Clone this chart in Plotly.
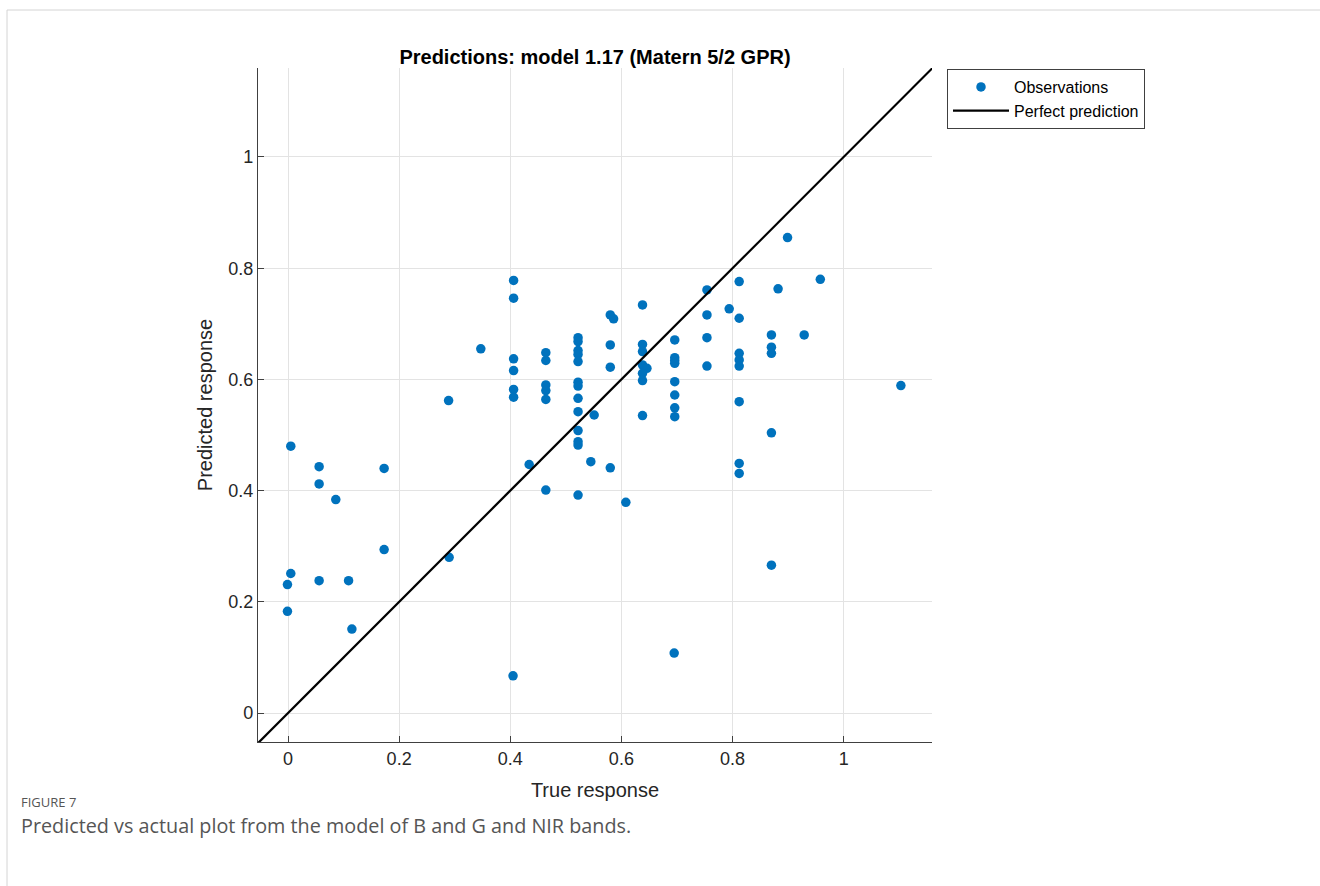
import plotly.graph_objects as go

# ---- data ----
true_response = [
    0.005, 0.056, 0.056, 0.086, 0.173, 0.173, 0.290, 0.005, -0.001, 0.056, 0.109, -0.001, 0.115,
    0.289, 0.347, 0.434, 0.405,
    0.406, 0.406, 0.406, 0.406, 0.406, 0.406,
    0.464, 0.464, 0.464, 0.464, 0.464, 0.464,
    0.522, 0.522, 0.522, 0.522, 0.522, 0.522, 0.522, 0.522, 0.522, 0.522, 0.522, 0.522, 0.522,
    0.545, 0.551,
    0.580, 0.586, 0.580, 0.580, 0.580,
    0.608,
    0.638, 0.638, 0.638, 0.638, 0.646, 0.638, 0.638, 0.638,
    0.696, 0.696, 0.696, 0.696, 0.696, 0.696, 0.696, 0.696, 0.695,
    0.754, 0.754, 0.754, 0.754, 0.794,
    0.812, 0.812, 0.812, 0.812, 0.812, 0.812, 0.812, 0.812,
    0.870, 0.870, 0.870, 0.870, 0.870,
    0.882, 0.899, 0.929, 0.958, 1.103,
]
predicted_response = [
    0.480, 0.443, 0.412, 0.384, 0.440, 0.294, 0.280, 0.251, 0.231, 0.238, 0.238, 0.183, 0.151,
    0.562, 0.655, 0.447, 0.067,
    0.778, 0.746, 0.637, 0.616, 0.582, 0.568,
    0.648, 0.634, 0.590, 0.580, 0.564, 0.401,
    0.675, 0.668, 0.652, 0.645, 0.632, 0.595, 0.588, 0.566, 0.542, 0.508, 0.488, 0.482, 0.392,
    0.452, 0.536,
    0.716, 0.709, 0.662, 0.622, 0.441,
    0.379,
    0.734, 0.663, 0.650, 0.626, 0.620, 0.611, 0.598, 0.535,
    0.671, 0.639, 0.634, 0.629, 0.596, 0.572, 0.549, 0.533, 0.108,
    0.761, 0.716, 0.675, 0.624, 0.727,
    0.776, 0.710, 0.647, 0.635, 0.624, 0.560, 0.449, 0.431,
    0.680, 0.658, 0.647, 0.504, 0.266,
    0.763, 0.855, 0.680, 0.780, 0.589,
]
x_range = [-0.054, 1.159]
y_range = [-0.052, 1.160]
tick_vals = [0, 0.2, 0.4, 0.6, 0.8, 1]
tick_text = ["0", "0.2", "0.4", "0.6", "0.8", "1"]
line_ends = [min(x_range[0], y_range[0]) - 0.02, max(x_range[1], y_range[1]) + 0.02]

FONT = "Liberation Sans, Arial, sans-serif"
TXT = "#262626"

fig = go.Figure()
fig.add_trace(go.Scatter(
    x=true_response, y=predicted_response, mode="markers", name="Observations",
    marker=dict(color="#0072BD", size=9.5, line=dict(width=0)),
))
fig.add_trace(go.Scatter(
    x=line_ends, y=line_ends, mode="lines", name="Perfect prediction",
    line=dict(color="black", width=2.2),
))

axis_common = dict(
    tickvals=tick_vals, ticktext=tick_text, showgrid=True, gridcolor="#e3e3e3", gridwidth=1,
    zeroline=False, showline=True, linecolor="#404040", linewidth=1.2, mirror=False,
    ticks="inside", ticklen=6, tickcolor="#404040", tickfont=dict(family=FONT, size=18, color=TXT),
)
fig.update_xaxes(range=x_range, title=dict(text="True response", font=dict(family=FONT, size=20, color=TXT), standoff=15), **axis_common)
fig.update_yaxes(range=y_range, title=dict(text="Predicted response", font=dict(family=FONT, size=20, color=TXT), standoff=10), **axis_common)

W, H = 1320, 886
L, R, T, B = 258, 932, 68, 742
pw, ph = R - L, B - T

def px(xp):
    return (xp - L) / pw

def py(yp):
    return (B - yp) / ph

fig.update_layout(
    width=W, height=H, autosize=False,
    margin=dict(l=L, r=W - R, t=T, b=H - B),
    paper_bgcolor="white", plot_bgcolor="white",
    title=dict(text="<b>Predictions: model 1.17 (Matern 5/2 GPR)</b>", x=595 / W, xanchor="center",
               y=1 - 57 / H, yanchor="middle", font=dict(family=FONT, size=20, color="black")),
    legend=dict(x=px(947), y=py(69), xanchor="left", yanchor="top", bgcolor="white",
                bordercolor="#404040", borderwidth=1, font=dict(family=FONT, size=16, color="black"),
                tracegroupgap=0, itemwidth=56),
    showlegend=True,
)

# caption
CAP_FONT = "Open Sans, sans-serif"
fig.add_annotation(text="FIGURE 7", xref="paper", yref="paper", x=px(19), y=py(802), xanchor="left",
                   yanchor="middle", showarrow=False, font=dict(family=CAP_FONT, size=13, color="#555555"))
fig.add_annotation(text="Predicted vs actual plot from the model of B and G and NIR bands.", xref="paper", yref="paper",
                   x=px(19), y=py(825), xanchor="left", yanchor="middle", showarrow=False,
                   font=dict(family=CAP_FONT, size=19.8, color="#555555"))

# figure frame lines
fig.add_shape(type="line", xref="paper", yref="paper", x0=px(7), x1=px(W), y0=py(10), y1=py(10),
              line=dict(color="#d4d4d4", width=1))
fig.add_shape(type="line", xref="paper", yref="paper", x0=px(7), x1=px(7), y0=py(10), y1=py(H),
              line=dict(color="#d4d4d4", width=1))

fig.write_html("out.html", config={"displayModeBar": False},
               post_script="document.body.style.margin='0px';")
